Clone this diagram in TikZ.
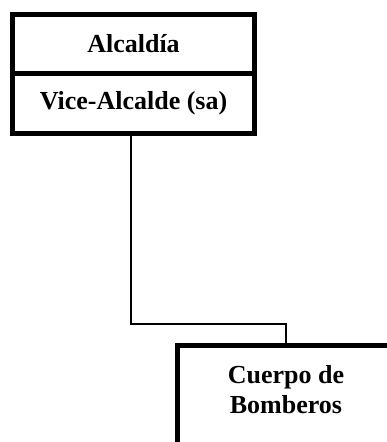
\documentclass[tikz,border=0pt]{standalone}
\usepackage{fontspec}
\setmainfont{Liberation Serif}
\begin{document}
\begin{tikzpicture}[x=1pt,y=-1pt,
  boxpart/.style={draw,line width=5pt,minimum width=242pt,inner sep=0pt,outer sep=0pt,
    font=\bfseries\fontsize{26}{30}\selectfont},
  label/.style={inner sep=0pt,align=center,font=\bfseries\fontsize{26}{30}\selectfont},
  link/.style={draw,line width=2pt}]
\useasboundingbox (0,0) rectangle (387,442);
\fill[white] (0,0) rectangle (387,442);
\node[boxpart,minimum height=58.5pt] (alc) at (133.5,43.75) {Alcaldía};
\node[boxpart,minimum height=60.5pt] (vice) at (133.5,103.25) {Vice-Alcalde (sa)};
\begin{scope}
  \clip (0,0) rectangle (387,442);
  \draw[line width=5pt] (177.5,470) -- (177.5,345.5) -- (420,345.5);
\end{scope}
\coordinate (bombtop) at (285.5,345.5);
\coordinate (start) at ([xshift=-2.5pt]vice.south);
\coordinate (bendlevel) at (0,324);
\node[label] (bomb) at (286,390) {Cuerpo de\\Bomberos};
\draw[link] (start) |- (bendlevel -| bombtop) -- (bombtop);
\end{tikzpicture}
\end{document}
